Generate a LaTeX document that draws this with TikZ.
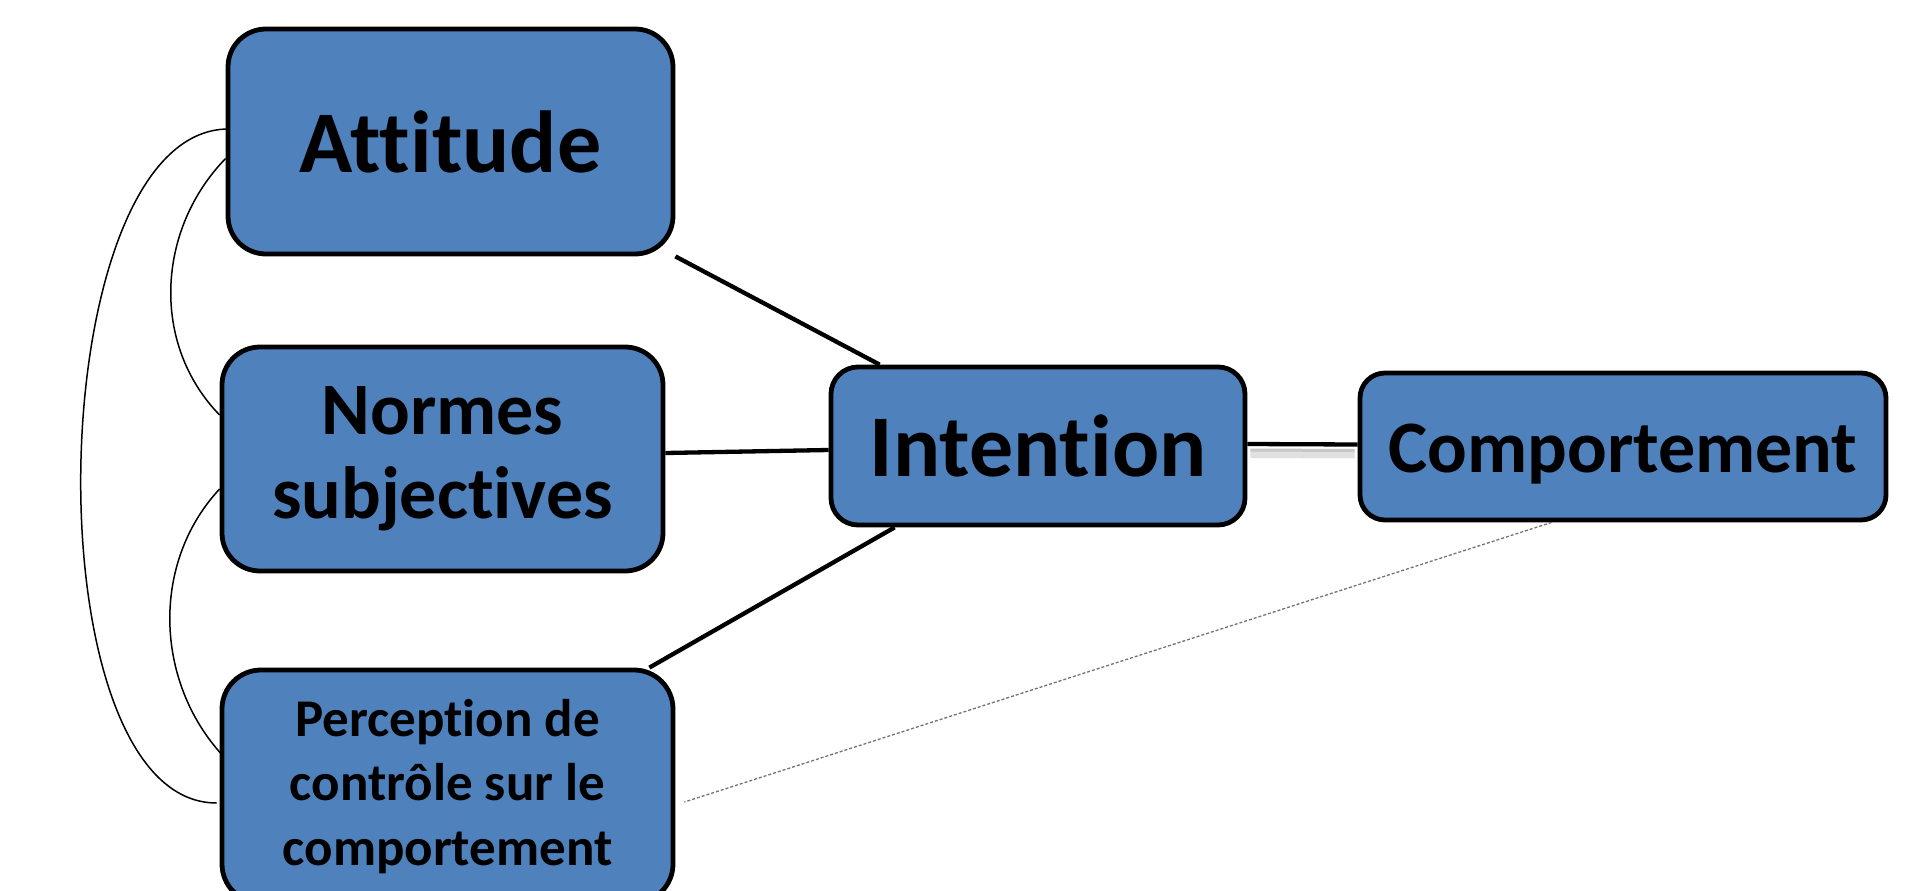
\documentclass[tikz,border=0pt]{standalone}
\usepackage{fontspec}
\setmainfont{Carlito}[Ligatures={NoCommon}]
\definecolor{boxblue}{HTML}{4F81BD}
\begin{document}
\begin{tikzpicture}[x=1pt,y=-1pt,
  box/.style={draw=black, line width=4.8pt, fill=boxblue, rounded corners=#1, inner sep=0pt, align=center, text=black},
  box/.default=36pt,
  bigline/.style={line width=4.3pt, black},
  thinarc/.style={line width=1.5pt, black},
  dotline/.style={line width=1.3pt, black!55, dash pattern=on 3pt off 2pt},
  shadowline/.style={line width=8pt, black!12},
  shadowcore/.style={line width=3pt, black!22}
]
\fill[white] (0,0) rectangle (1907,891);
\useasboundingbox (0,0) rectangle (1907,891);

\node[box=38pt, minimum width=445pt, minimum height=225pt,
  font=\bfseries\fontsize{88}{106}\selectfont] (att) at (450.5,141.5) {Attitude};
\node[box=38pt, minimum width=441pt, minimum height=224pt,
  font=\bfseries\fontsize{74}{84}\selectfont] (nor) at (442.5,459) {Normes\\subjectives};
\node[box=39pt, minimum width=451pt, minimum height=233pt,
  font=\bfseries\fontsize{53}{64.5}\selectfont] (per) at (447.5,786.5) {Perception de\\contrôle sur le\\comportement};
\node[box=27pt, minimum width=414pt, minimum height=158pt,
  font=\bfseries\fontsize{88}{106}\selectfont] (int) at (1038,446) {Intention};
\node[box=25pt, minimum width=526pt, minimum height=147pt,
  font=\bfseries\fontsize{74}{89}\selectfont] (comp) at (1623,446.5) {\raisebox{-8pt}[\height][\depth]{Comportement}};

% thick connectors
\draw[bigline] (att.south east) -- ([xshift=51pt]int.north west);
\draw[bigline] ([yshift=6pt]nor.east) -- ([yshift=-4pt]int.west);
\draw[bigline] ([xshift=-26pt]per.north east) -- ([xshift=66pt]int.south west);
\draw[shadowline] ([xshift=3pt,yshift=-8pt]int.east) -- ([xshift=-3pt,yshift=-8pt]comp.west);
\draw[shadowcore] ([xshift=3pt,yshift=-4pt]int.east) -- ([xshift=-3pt,yshift=-4pt]comp.west);
\draw[bigline] ([yshift=2pt]int.east) -- ([yshift=2pt]comp.west);

% dashed connector
\draw[dotline] ([xshift=194pt]comp.south west) -- ([xshift=9pt,yshift=-15.5pt]per.east);

% curved correlation arcs
\draw[thinarc] ([xshift=3pt,yshift=12.5pt]att.west) .. controls +(-189,0) and +(-189,0) .. ([xshift=-3pt,yshift=-16.5pt]per.west);
\draw[thinarc] ([yshift=-17pt]att.west) .. controls +(-69,71) and +(-69,-71) .. ([yshift=44pt]nor.west);
\draw[thinarc] ([yshift=-30pt]nor.west) .. controls +(-69,74) and +(-69,-74) .. ([xshift=4pt,yshift=30pt]per.west);
\end{tikzpicture}
\end{document}
